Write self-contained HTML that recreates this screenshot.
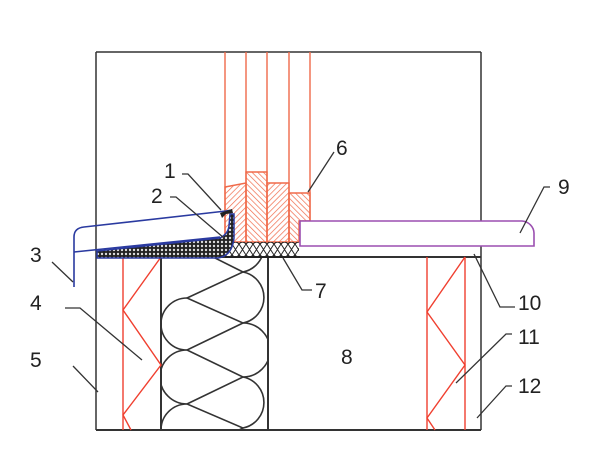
<!DOCTYPE html>
<html><head><meta charset="utf-8"><style>body{margin:0;background:#fff}svg{display:block}text{font-family:"Liberation Sans",sans-serif;font-size:21px;fill:#222}</style></head>
<body>
<svg width="600" height="454" viewBox="0 0 600 454" xmlns="http://www.w3.org/2000/svg">
<defs>
<pattern id="h1" width="4" height="4" patternUnits="userSpaceOnUse" patternTransform="rotate(45)"><line x1="0" y1="0" x2="0" y2="4" stroke="#f06a4a" stroke-width="1.4"/></pattern>
<pattern id="h2" width="4" height="4" patternUnits="userSpaceOnUse" patternTransform="rotate(-45)"><line x1="0" y1="0" x2="0" y2="4" stroke="#f06a4a" stroke-width="1.4"/></pattern>
<pattern id="dots" width="4" height="4" patternUnits="userSpaceOnUse"><rect width="4" height="4" fill="#222"/><circle cx="2" cy="2" r="1.2" fill="#ddd"/></pattern>
<pattern id="gk" width="7" height="15" patternUnits="userSpaceOnUse" x="225" y="242"><path d="M0 2 L3.5 7.5 L7 2 M0 13 L3.5 7.5 L7 13" stroke="#222" fill="none" stroke-width="1"/><path d="M0 2 Q3.5 -2 7 2 M0 13 Q3.5 17 7 13" stroke="#222" fill="none" stroke-width="1"/></pattern>
<clipPath id="ins"><rect x="161" y="258" width="107" height="171"/></clipPath>
</defs>
<g stroke="#333" stroke-width="1.5" fill="none">
<line x1="96" y1="52" x2="481" y2="52"/>
<line x1="96" y1="52" x2="96" y2="430"/>
<line x1="481" y1="52" x2="481" y2="430"/>
<line x1="96" y1="257" x2="481" y2="257" stroke-width="2"/>
<line x1="96" y1="430" x2="481" y2="430" stroke-width="2"/>
<line x1="161" y1="257" x2="161" y2="430" stroke-width="2"/>
<line x1="268" y1="257" x2="268" y2="430" stroke-width="2"/>
</g>
<!-- insulation -->
<g stroke="#333" stroke-width="1.6" fill="none" clip-path="url(#ins)">
<path d="M187 298 A26 26 0 0 0 187 350 M187 350 A26 26 0 0 0 187 404 M187 404 A26 26 0 0 0 187 456"/>
<path d="M243 221 A26 26 0 0 1 243 272 M243 272 A26 26 0 0 1 243 323 M243 323 A26 26 0 0 1 243 377 M243 377 A26 26 0 0 1 243 428"/>
<path d="M187 244 L243 272 L187 298 L243 323 L187 350 L243 377 L187 404 L243 428 L187 456"/>
</g>
<!-- red studs -->
<g stroke="#f04030" stroke-width="1.4" fill="none">
<line x1="123" y1="257" x2="123" y2="430"/>
<path d="M161 257 L123 310 L161 365 L123 415 L131 430"/>
<line x1="427" y1="257" x2="427" y2="430"/>
<line x1="465" y1="257" x2="465" y2="430"/>
<path d="M465 257 L427 312 L465 365 L427 418 L435 430"/>
</g>
<!-- window frame -->
<g stroke="#f06a4a" stroke-width="1.4">
<line x1="225" y1="52" x2="225" y2="242"/>
<line x1="246" y1="52" x2="246" y2="242"/>
<line x1="267" y1="52" x2="267" y2="242"/>
<line x1="289" y1="52" x2="289" y2="242"/>
<line x1="310" y1="52" x2="310" y2="221"/>
<path d="M225 187 L246 183 L246 242 L225 242Z" fill="url(#h1)"/>
<path d="M246 172 L267 172 L267 242 L246 242Z" fill="url(#h2)"/>
<path d="M267 183 L289 183 L289 242 L267 242Z" fill="url(#h1)"/>
<path d="M289 193 L310 193 L310 221 L299 221 L299 242 L289 242Z" fill="url(#h2)"/>
</g>
<rect x="225" y="242" width="74" height="15" fill="url(#gk)"/>
<line x1="225" y1="257" x2="300" y2="257" stroke="#222" stroke-width="2"/>
<!-- sill -->
<path d="M300 221 L522 221 A13 12.5 0 0 1 534 233 L534 246 L300 246 Z" fill="#fff" stroke="#9b4fb0" stroke-width="1.6"/>
<!-- flashing -->
<path d="M97 258 L97 251 L220 238 Q228 234 229 226 L230 214 L234 214 L234 238 Q232 256 218 258 Z" fill="url(#dots)" stroke="#2a3aa0" stroke-width="1.5"/>
<path d="M74 287 L74 237 Q74 228 84 227 L226 211 L232 210" fill="none" stroke="#2a3aa0" stroke-width="1.6"/>
<path d="M74 252 L220 237" fill="none" stroke="#2a3aa0" stroke-width="1.6"/>
<path d="M220 213 L232 209 L233 213 L226 214 L222 218 Z" fill="#222"/>
<!-- leaders -->
<g stroke="#333" stroke-width="1.3" fill="none">
<path d="M182 174 L188 174 L221 210"/>
<path d="M170 197 L176 197 L224 238"/>
<path d="M52 262 L73 282"/>
<path d="M65 308 L80 308 L142 360"/>
<path d="M73 366 L98 392"/>
<path d="M334 152 L308 192"/>
<path d="M312 290 L302 290 L283 258"/>
<path d="M550 187 L544 187 L520 233"/>
<path d="M515 307 L500 307 L474 254"/>
<path d="M512 334 L506 334 L456 383"/>
<path d="M512 386 L506 386 L477 418"/>
</g>
<text x="164" y="178">1</text>
<text x="151" y="203">2</text>
<text x="30" y="262">3</text>
<text x="30" y="310">4</text>
<text x="30" y="367">5</text>
<text x="336" y="155">6</text>
<text x="315" y="298">7</text>
<text x="341" y="364">8</text>
<text x="558" y="194">9</text>
<text x="518" y="310">10</text>
<text x="518" y="344">11</text>
<text x="518" y="393">12</text>
</svg>
</body></html>
